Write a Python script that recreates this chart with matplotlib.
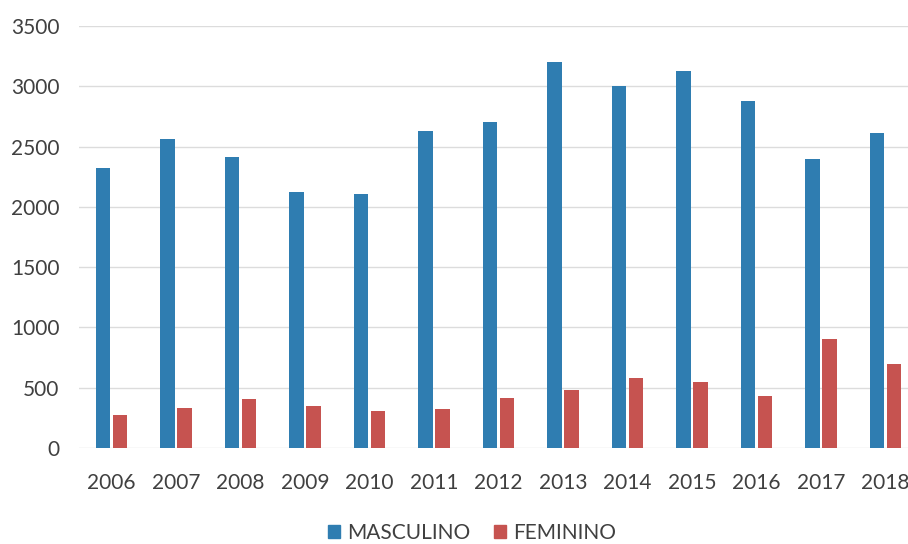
import numpy as np
import matplotlib.pyplot as plt
from matplotlib.patches import Patch

anios = ["2006", "2007", "2008", "2009", "2010", "2011", "2012",
         "2013", "2014", "2015", "2016", "2017", "2018"]
masculino = [2320, 2560, 2415, 2120, 2110, 2630, 2705,
             3205, 3000, 3130, 2875, 2400, 2610]
femenino = [272, 330, 408, 350, 308, 325, 412,
            482, 580, 550, 435, 905, 700]

azul = "#2f7db1"
rojo = "#c65350"
gris_texto = "#404040"

plt.rcParams["font.family"] = ["Lato", "DejaVu Sans"]

fig = plt.figure(figsize=(9.08, 5.44), dpi=100)
ax = fig.add_axes([79 / 908, 96 / 544, 829 / 908, 422 / 544])

x = np.arange(len(anios))
ancho = 0.225
desp = 0.132
ax.bar(x - desp, masculino, width=ancho, color=azul, zorder=3)
ax.bar(x + desp, femenino, width=ancho, color=rojo, zorder=3)

ax.set_ylim(0, 3500)
ax.set_xlim(-0.504, 12.35)
ax.set_yticks(range(0, 3501, 500))
ax.set_xticks(x)
ax.set_xticklabels(anios)
ax.yaxis.grid(True, color="#dcdcdc", linewidth=1.0, zorder=0)
ax.set_axisbelow(True)
for s in ax.spines.values():
    s.set_visible(False)
ax.tick_params(axis="both", length=0, labelsize=15, colors=gris_texto)
ax.tick_params(axis="y", pad=14)
ax.tick_params(axis="x", pad=18)

handles = [Patch(color=azul, label="MASCULINO"), Patch(color=rojo, label="FEMININO")]
fig.legend(handles=handles, loc="center", bbox_to_anchor=(472 / 908, 1 - 533 / 544),
           ncol=2, frameon=False, fontsize=15, handlelength=0.6, handleheight=0.6,
           handletextpad=0.35, columnspacing=1.1, labelcolor=gris_texto)

fig.savefig("out.png", dpi=100, facecolor="white")
